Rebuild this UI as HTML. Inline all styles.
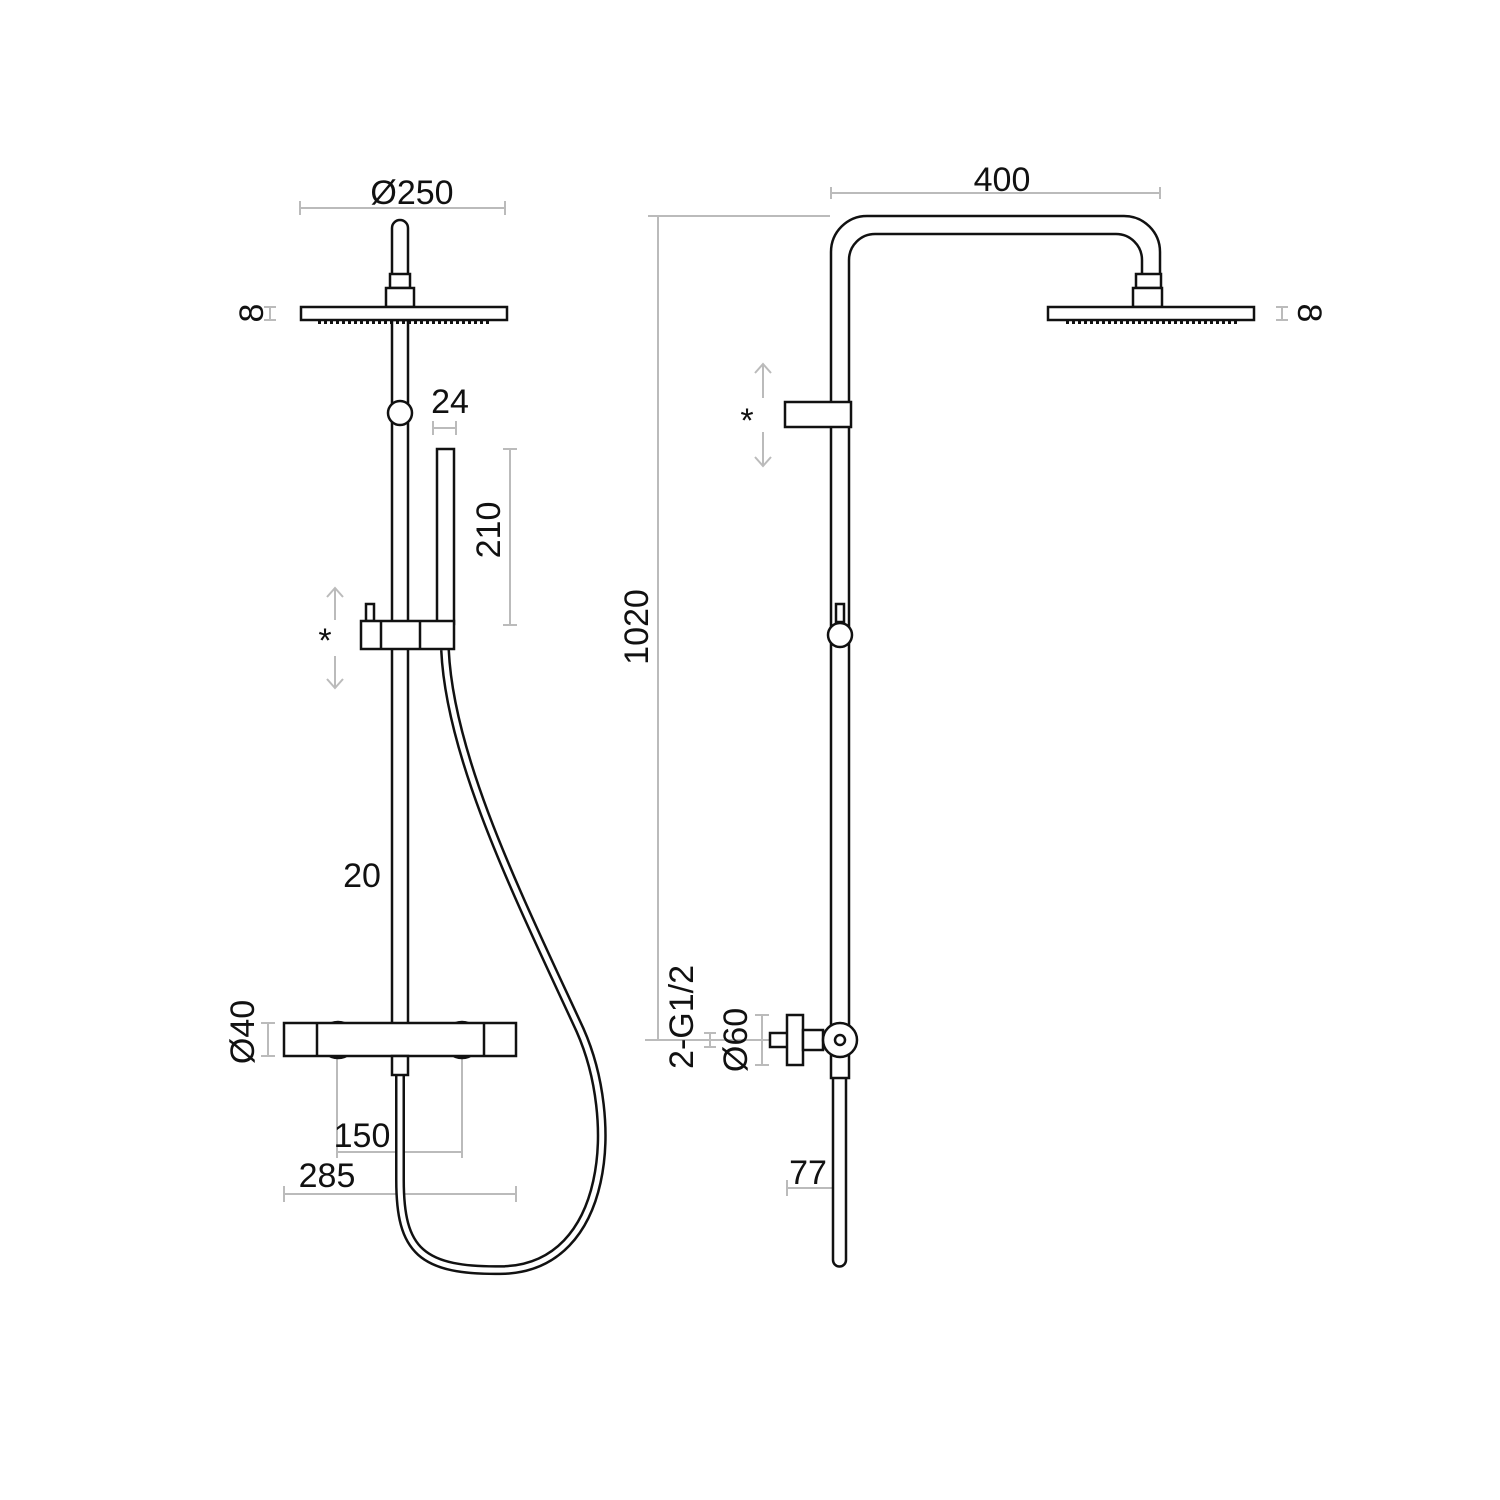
<!DOCTYPE html>
<html><head><style>html,body{margin:0;background:#fff}svg{display:block}</style></head>
<body>
<svg width="1500" height="1500" viewBox="0 0 1500 1500" xmlns="http://www.w3.org/2000/svg">
<g fill="none" stroke="#bbb" stroke-width="2">
<path d="M300,208 H505 M300,201 V215 M505,201 V215"/>
<path d="M270,307 V320 M264,307 H276 M264,320 H276"/>
<path d="M433,428 H456 M433,421 V435 M456,421 V435"/>
<path d="M510,449 V625 M503,449 H517 M503,625 H517"/>
<path d="M392,876 H408"/>
<path d="M268,1023 V1056 M261,1023 H275 M261,1056 H275"/>
<path d="M337,1040 V1158 M462,1040 V1158 M337,1152 H462"/>
<path d="M284,1186 V1202 M516,1186 V1202 M284,1194 H516"/>
<path d="M335,620 V588 M327,597 L335,588 L343,597 M335,656 V688 M327,679 L335,688 L343,679"/>
<path d="M831,187 V199 M1160,187 V199 M831,193 H1160"/>
<path d="M1282,307 V320 M1276,307 H1288 M1276,320 H1288"/>
<path d="M648,216 H830 M645,1040 H830 M658,216 V1040"/>
<path d="M763,398 V364 M755,373 L763,364 L771,373 M763,432 V466 M755,457 L763,466 L771,457"/>
<path d="M710,1033 V1047 M704,1033 H716 M704,1047 H716"/>
<path d="M762,1015 V1065 M755,1015 H769 M755,1065 H769"/>
<path d="M787,1180 V1196 M840,1180 V1196 M787,1188 H840"/>
</g>
<g fill="#fff" stroke="#111" stroke-width="2.5">
<path d="M445,650 C450,760 520,900 580,1030 C620,1120 610,1265 505,1270 C420,1272 400,1250 400,1180 V1075" stroke-width="10" fill="none"/>
<path d="M445,650 C450,760 520,900 580,1030 C620,1120 610,1265 505,1270 C420,1272 400,1250 400,1180 V1075" stroke="#fff" stroke-width="5" fill="none"/>
<rect x="392" y="320" width="16" height="705"/>
<path d="M392,288 V228 A8,8 0 0 1 408,228 V288 Z"/>
<rect x="390" y="274" width="20" height="14"/>
<rect x="386" y="288" width="28" height="19"/>
<rect x="301" y="307" width="206" height="13"/>
<path d="M318,322 H492" stroke-dasharray="3 3" stroke-width="4"/>
<circle cx="400" cy="413" r="12"/>
<rect x="437" y="449" width="17" height="175"/>
<rect x="366" y="604" width="8" height="17"/>
<rect x="361" y="621" width="93" height="28"/>
<path d="M381,621 V649 M420,621 V649"/>
<circle cx="338" cy="1040" r="18"/><circle cx="462" cy="1040" r="18"/>
<rect x="284" y="1023" width="232" height="33"/>
<path d="M317,1023 V1056 M484,1023 V1056"/>
<rect x="392" y="1056" width="16" height="19"/>
<path d="M831,1030 V252 A36,36 0 0 1 867,216 H1124 A36,36 0 0 1 1160,252 V288 H1142 V260 A26,26 0 0 0 1116,234 H875 A26,26 0 0 0 849,260 V1030 Z"/>
<rect x="1136" y="274" width="25" height="14"/>
<rect x="1133" y="288" width="29" height="19"/>
<rect x="1048" y="307" width="206" height="13"/>
<path d="M1066,322 H1240" stroke-dasharray="3 3" stroke-width="4"/>
<rect x="785" y="402" width="66" height="25"/>
<rect x="836" y="604" width="8" height="18"/>
<circle cx="840" cy="635" r="12"/>
<path d="M833,1078 V1260 A6.5,6.5 0 0 0 846,1260 V1078"/>
<rect x="831" y="1055" width="18" height="23"/>
<rect x="770" y="1033" width="19" height="14"/>
<rect x="787" y="1015" width="16" height="50"/>
<rect x="803" y="1030" width="20" height="20"/>
<circle cx="840" cy="1040" r="17"/><circle cx="840" cy="1040" r="5"/>
</g>
<g font-family="Liberation Sans, sans-serif" font-size="34" fill="#111">
<text x="412" y="204" text-anchor="middle">Ø250</text>
<text x="450" y="413" text-anchor="middle">24</text>
<text transform="translate(500,530) rotate(-90)" text-anchor="middle">210</text>
<text x="362" y="887" text-anchor="middle">20</text>
<text transform="translate(263,313) rotate(-90)" text-anchor="middle">8</text>
<text transform="translate(254,1032) rotate(-90)" text-anchor="middle">Ø40</text>
<text x="362" y="1147" text-anchor="middle">150</text>
<text x="327" y="1187" text-anchor="middle">285</text>
<text x="325" y="652" text-anchor="middle">*</text>
<text x="1002" y="191" text-anchor="middle">400</text>
<text transform="translate(1298,313) rotate(90)" text-anchor="middle">8</text>
<text transform="translate(648,627) rotate(-90)" text-anchor="middle">1020</text>
<text x="747" y="432" text-anchor="middle">*</text>
<text transform="translate(693,1017) rotate(-90)" text-anchor="middle">2-G1/2</text>
<text transform="translate(747,1040) rotate(-90)" text-anchor="middle">Ø60</text>
<text x="808" y="1184" text-anchor="middle">77</text>
</g>
</svg>
</body></html>
